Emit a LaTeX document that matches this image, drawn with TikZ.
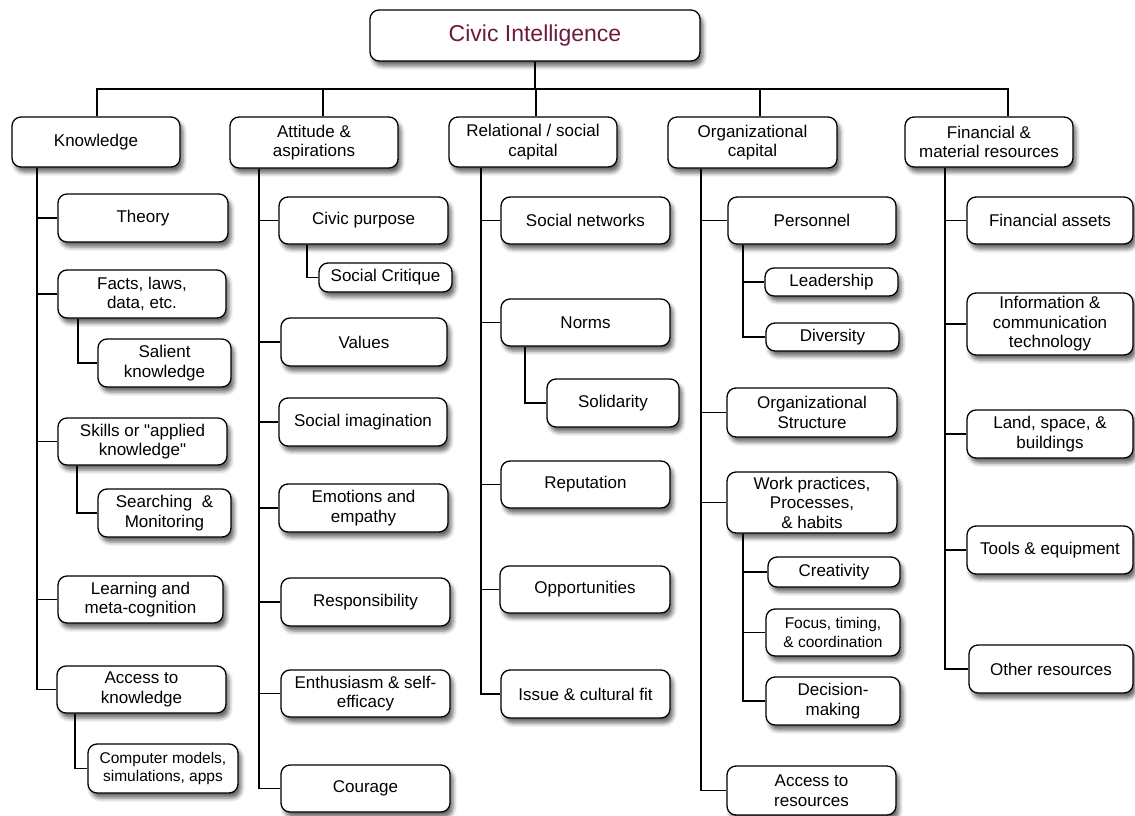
\documentclass[tikz,border=0pt]{standalone}
\usepackage{fontspec}
\setmainfont{Liberation Sans}[Ligatures=TeXOff]
\usetikzlibrary{shadows.blur,backgrounds}
\definecolor{titlecol}{RGB}{110,26,64}
\tikzset{
  box/.style={draw=black, line width=1.3pt, rounded corners=9pt, fill=white,
    inner sep=0pt, align=center, font=\fontsize{17}{19.5}\selectfont,
    blur shadow={shadow xshift=3pt, shadow yshift=-5pt, shadow blur radius=4pt, shadow opacity=60}},
  smalltxt/.style={font=\fontsize{15.5}{18.5}\selectfont},
  conn/.style={line width=1.3pt, draw=black},
}
\newcommand\bx[7][]{\node[box,#1, minimum width={(#5-#3)*1pt}, minimum height={(#6-#4)*1pt}] (#2) at ({(#3+#5)/2},{(#4+#6)/2}) {#7};}
\begin{document}
\begin{tikzpicture}[x=1pt,y=-1pt]
\useasboundingbox (0,0) rectangle (1135,816);
% top
\bx[font=\fontsize{23}{26}\selectfont, text=titlecol]{title}{370}{10}{700}{61}{Civic Intelligence}
\bx{K}{12}{117}{180}{167}{Knowledge}
\bx{A}{230}{117}{398}{168}{Attitude \&\\aspirations}
\bx{R}{449}{117}{617}{167}{Relational / social\\capital}
\bx{O}{668}{117}{837}{168}{Organizational\\capital}
\bx{F}{905}{117}{1073}{167}{Financial \&\\material resources}
% knowledge
\bx{k1}{58}{194}{228}{242}{Theory}
\bx{k2}{58}{270}{226}{318}{Facts, laws,\\data, etc.}
\bx{k2a}{98}{339}{231}{387}{Salient\\knowledge}
\bx{k3}{58}{418}{227}{465}{Skills or "applied\\knowledge"}
\bx{k3a}{98}{489}{231}{537}{Searching~~\&\\Monitoring}
\bx{k4}{58}{576}{223}{623}{Learning and\\meta-cognition}
\bx{k5}{57}{666}{226}{713}{Access to\\knowledge}
\bx[smalltxt]{k5a}{88}{744}{238}{793}{Computer models,\\simulations, apps}
% attitude
\bx{a1}{279}{197}{448}{244}{Civic purpose}
\bx{a1a}{319}{263}{452}{292}{Social Critique}
\bx{a2}{281}{318}{447}{366}{Values}
\bx{a3}{279}{398}{447}{446}{Social imagination}
\bx{a4}{279}{484}{448}{532}{Emotions and\\empathy}
\bx{a5}{281}{578}{450}{626}{Responsibility}
\bx{a6}{281}{670}{450}{717}{Enthusiasm \& self-\\efficacy}
\bx{a7}{281}{765}{450}{812}{Courage}
% relational
\bx{r1}{501}{197}{670}{244}{Social networks}
\bx{r2}{501}{299}{670}{346}{Norms}
\bx{r2a}{547}{379}{679}{427}{Solidarity}
\bx{r3}{501}{461}{670}{508}{Reputation}
\bx{r4}{500}{566}{670}{613}{Opportunities}
\bx{r5}{501}{670}{670}{718}{Issue \& cultural fit}
% organizational
\bx{o1}{728}{197}{896}{244}{Personnel}
\bx{o1a}{765}{268}{898}{296}{Leadership}
\bx{o1b}{766}{323}{899}{351}{Diversity}
\bx{o2}{727}{388}{897}{437}{Organizational\\Structure}
\bx{o3}{727}{472}{897}{533}{Work practices,\\Processes,\\\& habits}
\bx{o3a}{768}{557}{900}{587}{Creativity}
\bx[smalltxt]{o3b}{766}{609}{900}{656}{Focus, timing,\\\& coordination}
\bx{o3c}{766}{677}{900}{725}{Decision-\\making}
\bx{o4}{727}{766}{896}{815}{Access to\\resources}
% financial
\bx{f1}{967}{197}{1133}{244}{Financial assets}
\bx{f2}{967}{293}{1133}{355}{Information \&\\communication\\technology}
\bx{f3}{967}{410}{1133}{458}{Land, space, \&\\buildings}
\bx{f4}{967}{526}{1133}{574}{Tools \& equipment}
\bx{f5}{969}{645}{1133}{693}{Other resources}

\begin{pgfonlayer}{background}
\coordinate (hb) at (535,89);
\draw[conn] (title.south -| hb) -- (hb);
\draw[conn] (K.north -| 97,0) -- (97,89) -- (1008,89) -- (F.north -| 1008,0);
\draw[conn] (A.north -| 323,0) -- (323,89);
\draw[conn] (R.north -| 536,0) -- (536,89);
\draw[conn] (O.north -| 760,0) -- (760,89);
\foreach \c in {k1,k2,k3,k4,k5} \draw[conn] (K.south -| 37,0) |- (\c.west);
\draw[conn] (k2.south -| 78,0) |- (k2a.west);
\draw[conn] (k3.south -| 77,0) |- (k3a.west);
\draw[conn] (k5.south -| 75,0) |- (k5a.west);
\foreach \c in {a1,a2,a3,a4,a5,a6,a7} \draw[conn] (A.south -| 259,0) |- (\c.west);
\draw[conn] (a1.south -| 307,0) |- (a1a.west);
\foreach \c in {r1,r2,r3,r4,r5} \draw[conn] (R.south -| 481,0) |- (\c.west);
\draw[conn] (r2.south -| 525,0) |- (r2a.west);
\foreach \c in {o1,o2,o3,o4} \draw[conn] (O.south -| 701,0) |- (\c.west);
\foreach \c in {o1a,o1b} \draw[conn] (o1.south -| 743,0) |- (\c.west);
\foreach \c in {o3a,o3b,o3c} \draw[conn] (o3.south -| 743,0) |- (\c.west);
\foreach \c in {f1,f2,f3,f4,f5} \draw[conn] (F.south -| 945,0) |- (\c.west);
\end{pgfonlayer}
\end{tikzpicture}
\end{document}
